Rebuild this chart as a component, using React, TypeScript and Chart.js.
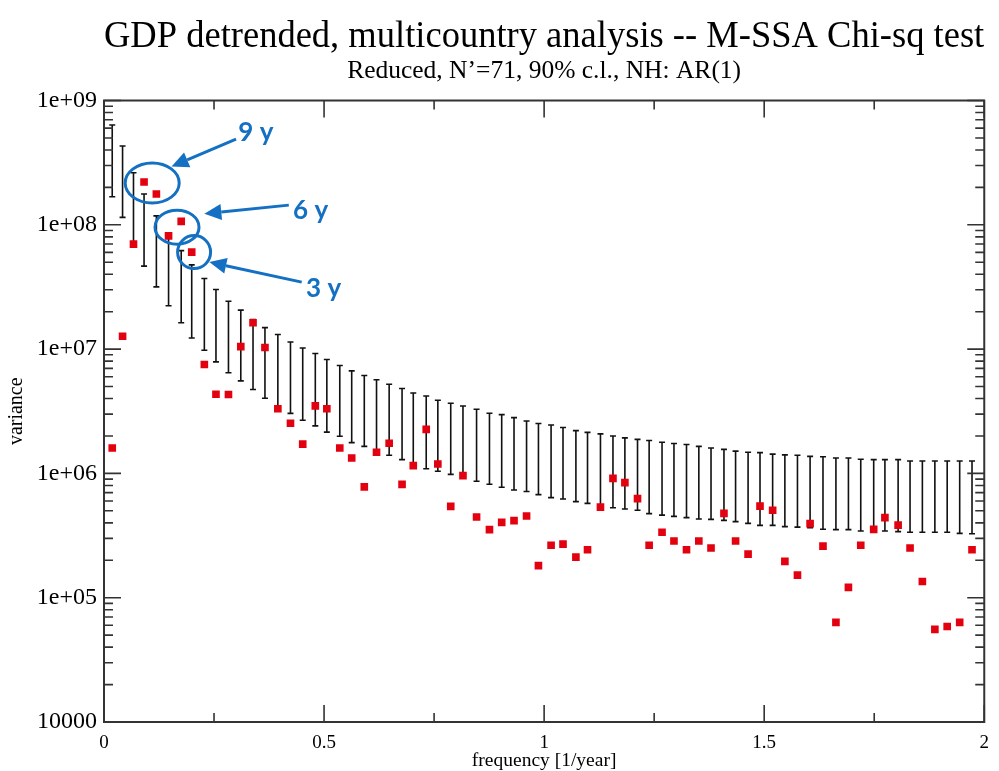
import React, { useEffect, useRef } from 'react';
import { Chart, registerables } from 'chart.js';

Chart.register(...registerables);

// ---------- data ----------
const frequencies = [
  0.0187, 0.0422, 0.067, 0.091, 0.119, 0.1467, 0.1754, 0.1993, 0.228, 0.2544,
  0.2828, 0.3108, 0.3386, 0.3657, 0.395, 0.4237, 0.4515, 0.4801, 0.5063, 0.5357,
  0.5628, 0.5914, 0.6192, 0.6479, 0.6772, 0.7027, 0.7321, 0.7585, 0.7878, 0.8156,
  0.8465, 0.8758, 0.9036, 0.9316, 0.9601, 0.9871, 1.0158, 1.0429, 1.0722, 1.0986,
  1.128, 1.1564, 1.1835, 1.2122, 1.2386, 1.2679, 1.295, 1.3235, 1.3515, 1.3792,
  1.4086, 1.435, 1.4634, 1.4905, 1.5192, 1.547, 1.5756, 1.6043, 1.6336, 1.663,
  1.6914, 1.7194, 1.7488, 1.7743, 1.8043, 1.8314, 1.8594, 1.8878, 1.9158, 1.9442,
  1.9722,
];

const variance = [
  1.6e6, 1.27e7, 6.99e7, 2.21e8, 1.77e8, 8.15e7, 1.065e8, 6.03e7, 7.52e6, 4.33e6,
  4.31e6, 1.046e7, 1.63e7, 1.03e7, 3.31e6, 2.53e6, 1.72e6, 3.49e6, 3.31e6, 1.6e6,
  1.33e6, 7.8e5, 1.48e6, 1.75e6, 8.17e5, 1.156e6, 2.26e6, 1.19e6, 5.43e5, 9.6e5,
  4.46e5, 3.53e5, 4.04e5, 4.17e5, 4.54e5, 1.81e5, 2.64e5, 2.7e5, 2.12e5, 2.43e5,
  5.36e5, 9.13e5, 8.43e5, 6.27e5, 2.64e5, 3.36e5, 2.86e5, 2.43e5, 2.86e5, 2.51e5,
  4.77e5, 2.86e5, 2.24e5, 5.46e5, 5.05e5, 1.96e5, 1.52e5, 3.94e5, 2.6e5, 6.33e4,
  1.21e5, 2.64e5, 3.55e5, 4.41e5, 3.84e5, 2.51e5, 1.35e5, 5.56e4, 5.87e4, 6.33e4,
  2.43e5,
];

const upperBound = [
  6.35e8, 4.3e8, 2.62e8, 1.77e8, 1.18e8, 8.53e7, 6.2e7, 4.76e7, 3.7e7, 3.02e7,
  2.43e7, 2.06e7, 1.73e7, 1.49e7, 1.31e7, 1.14e7, 1.02e7, 9.22e6, 8.26e6, 7.39e6,
  6.68e6, 6.14e6, 5.67e6, 5.22e6, 4.82e6, 4.44e6, 4.2e6, 3.88e6, 3.67e6, 3.49e6,
  3.28e6, 3.05e6, 2.97e6, 2.81e6, 2.64e6, 2.52e6, 2.45e6, 2.34e6, 2.21e6, 2.14e6,
  2.08e6, 2.0e6, 1.93e6, 1.88e6, 1.84e6, 1.78e6, 1.74e6, 1.71e6, 1.65e6, 1.6e6,
  1.56e6, 1.51e6, 1.48e6, 1.47e6, 1.43e6, 1.41e6, 1.4e6, 1.37e6, 1.36e6, 1.33e6,
  1.33e6, 1.3e6, 1.29e6, 1.29e6, 1.29e6, 1.26e6, 1.26e6, 1.26e6, 1.26e6, 1.26e6,
  1.26e6,
];

const lowerBound = [
  1.68e8, 1.147e8, 6.86e7, 4.65e7, 3.17e7, 2.23e7, 1.63e7, 1.23e7, 9.8e6, 7.89e6,
  6.46e6, 5.55e6, 4.73e6, 4.02e6, 3.42e6, 3.04e6, 2.68e6, 2.41e6, 2.15e6, 1.99e6,
  1.77e6, 1.65e6, 1.53e6, 1.4e6, 1.29e6, 1.16e6, 1.09e6, 1.04e6, 9.83e5, 9.48e5,
  8.64e5, 8.17e5, 7.73e5, 7.35e5, 7.15e5, 6.75e5, 6.39e5, 6.22e5, 5.93e5, 5.74e5,
  5.43e5, 5.3e5, 5.17e5, 5.05e5, 4.75e5, 4.62e5, 4.51e5, 4.41e5, 4.3e5, 4.27e5,
  4.19e5, 4.09e5, 3.96e5, 3.82e5, 3.82e5, 3.73e5, 3.7e5, 3.66e5, 3.55e5, 3.53e5,
  3.53e5, 3.44e5, 3.44e5, 3.44e5, 3.4e5, 3.36e5, 3.36e5, 3.36e5, 3.36e5, 3.29e5,
  3.27e5,
];

const xTickValues = [0, 0.5, 1, 1.5, 2];
const xTickLabels = ['0', '0.5', '1', '1.5', '2'];
const yTickValues = [1e4, 1e5, 1e6, 1e7, 1e8, 1e9];
const yTickLabels = ['10000', '1e+05', '1e+06', '1e+07', '1e+08', '1e+09'];

const titleText = 'GDP detrended, multicountry analysis -- M-SSA Chi-sq test';
const subtitleText = 'Reduced, N\u2019=71, 90% c.l., NH: AR(1)';
const xAxisTitle = 'frequency [1/year]';
const yAxisTitle = 'variance';

// annotations (anchored in data coordinates)
const annotationLabels = ['9 y', '6 y', '3 y'];
const labelFreq = [0.345, 0.4695, 0.4989];
const labelVar = [5.47e8, 1.29e8, 3.04e7];
const ellipseFreq = [0.1095, 0.1659, 0.2047];
const ellipseVar = [2.17e8, 9.58e7, 6.03e7];
const arrowFromFreq = [0.3, 0.4199, 0.4492];
const arrowFromVar = [4.9e8, 1.44e8, 3.46e7];
const arrowToFreq = [0.1535, 0.228, 0.2393];
const arrowToVar = [2.94e8, 1.23e8, 5.01e7];

const SERIF = '"Liberation Serif", "Times New Roman", serif';
const BLUE = '#1470c2';

const errorBarPlugin = {
  id: 'errorBars',
  beforeDatasetsDraw(chart: any) {
    const { ctx, scales } = chart;
    const x = scales.x;
    const y = scales.y;
    ctx.save();
    ctx.strokeStyle = '#111';
    ctx.lineWidth = 1.6;
    for (let i = 0; i < frequencies.length; i++) {
      const px = x.getPixelForValue(frequencies[i]);
      const top = y.getPixelForValue(upperBound[i]);
      const bot = y.getPixelForValue(lowerBound[i]);
      ctx.beginPath();
      ctx.moveTo(px, top);
      ctx.lineTo(px, bot);
      ctx.moveTo(px - 3, top);
      ctx.lineTo(px + 3, top);
      ctx.moveTo(px - 3, bot);
      ctx.lineTo(px + 3, bot);
      ctx.stroke();
    }
    ctx.restore();
  },
};

const framePlugin = {
  id: 'frameTicks',
  afterDatasetsDraw(chart: any) {
    const { ctx, chartArea, scales } = chart;
    const x = scales.x;
    const y = scales.y;
    const { left, right, top, bottom } = chartArea;
    ctx.save();
    ctx.strokeStyle = '#333';
    ctx.lineWidth = 1.6;
    ctx.beginPath();
    for (let e = 4; e <= 9; e++) {
      for (let m = 1; m <= 9; m++) {
        const v = m * Math.pow(10, e);
        if (v > 1e9 * 1.0001) break;
        const py = y.getPixelForValue(v);
        const len = m === 1 ? 17 : 9;
        ctx.moveTo(left, py);
        ctx.lineTo(left + len, py);
        ctx.moveTo(right, py);
        ctx.lineTo(right - len, py);
      }
    }
    for (let k = 0; k <= 8; k++) {
      const v = k * 0.25;
      const px = x.getPixelForValue(v);
      const len = k % 2 === 0 ? 17 : 9;
      ctx.moveTo(px, bottom);
      ctx.lineTo(px, bottom - len);
      ctx.moveTo(px, top);
      ctx.lineTo(px, top + len);
    }
    ctx.stroke();
    ctx.lineWidth = 2;
    ctx.strokeRect(left, top, right - left, bottom - top);
    ctx.restore();
  },
};

const annotationPlugin = {
  id: 'annotations',
  afterDraw(chart: any) {
    const { ctx, scales } = chart;
    const x = scales.x;
    const y = scales.y;
    const radii = [[27, 20], [22, 17], [16.5, 16.5]];
    ctx.save();
    ctx.strokeStyle = BLUE;
    ctx.fillStyle = BLUE;
    ctx.lineWidth = 3;
    for (let i = 0; i < annotationLabels.length; i++) {
      const cx = x.getPixelForValue(ellipseFreq[i]);
      const cy = y.getPixelForValue(ellipseVar[i]);
      ctx.beginPath();
      ctx.ellipse(cx, cy, radii[i][0], radii[i][1], 0, 0, Math.PI * 2);
      ctx.stroke();

      const x1 = x.getPixelForValue(arrowFromFreq[i]);
      const y1 = y.getPixelForValue(arrowFromVar[i]);
      const x2 = x.getPixelForValue(arrowToFreq[i]);
      const y2 = y.getPixelForValue(arrowToVar[i]);
      const ang = Math.atan2(y2 - y1, x2 - x1);
      const headLen = 17;
      const headW = 8;
      const bx = x2 - headLen * Math.cos(ang);
      const by = y2 - headLen * Math.sin(ang);
      ctx.beginPath();
      ctx.moveTo(x1, y1);
      ctx.lineTo(bx, by);
      ctx.stroke();
      ctx.beginPath();
      ctx.moveTo(x2, y2);
      ctx.lineTo(bx + headW * Math.sin(ang), by - headW * Math.cos(ang));
      ctx.lineTo(bx - headW * Math.sin(ang), by + headW * Math.cos(ang));
      ctx.closePath();
      ctx.fill();

      ctx.font = 'bold 26px Lato, "Open Sans", sans-serif';
      ctx.textAlign = 'center';
      ctx.textBaseline = 'middle';
      ctx.fillText(
        annotationLabels[i],
        x.getPixelForValue(labelFreq[i]),
        y.getPixelForValue(labelVar[i])
      );
    }
    ctx.restore();
  },
};

export default function App() {
  const canvasRef = useRef<HTMLCanvasElement | null>(null);

  useEffect(() => {
    document.body.style.margin = '0';
    const canvas = canvasRef.current;
    if (!canvas) return;
    const chart = new Chart(canvas, {
      type: 'scatter',
      data: {
        datasets: [
          {
            data: frequencies.map((f, i) => ({ x: f, y: variance[i] })),
            pointStyle: 'rect',
            pointRadius: 5.4,
            pointHoverRadius: 5.4,
            backgroundColor: '#e3000f',
            borderColor: '#e3000f',
            borderWidth: 0,
          },
        ],
      },
      options: {
        responsive: false,
        animation: false,
        layout: { padding: { left: 0, right: 9, top: 0, bottom: 0 } },
        plugins: {
          legend: { display: false },
          tooltip: { enabled: false },
          title: {
            display: true,
            fullSize: false,
            text: titleText,
            color: '#000',
            font: { family: SERIF, size: 37.7, weight: 'normal', lineHeight: 1.08 },
            padding: { top: 17, bottom: 0 },
          },
          subtitle: {
            display: true,
            fullSize: false,
            text: subtitleText,
            color: '#000',
            font: { family: SERIF, size: 25.5, weight: 'normal', lineHeight: 1 },
            padding: { top: 1, bottom: 16.3 },
          },
        },
        scales: {
          x: {
            type: 'linear',
            min: 0,
            max: 2,
            afterBuildTicks: (s: any) => {
              s.ticks = xTickValues.map((v) => ({ value: v }));
            },
            afterFit: (s: any) => {
              s.height = 49;
            },
            ticks: {
              color: '#000',
              padding: 10,
              maxRotation: 0,
              autoSkip: false,
              font: { family: SERIF, size: 19, lineHeight: 1.2 },
              callback: (v: any) => {
                const i = xTickValues.indexOf(Number(v));
                return i >= 0 ? xTickLabels[i] : '';
              },
            },
            grid: { display: false, drawTicks: false },
            border: { display: false },
            title: {
              display: true,
              text: xAxisTitle,
              color: '#000',
              font: { family: SERIF, size: 19.5, lineHeight: 1 },
              padding: { top: 0, bottom: 0 },
            },
          },
          y: {
            type: 'logarithmic',
            min: 1e4,
            max: 1e9,
            afterBuildTicks: (s: any) => {
              s.ticks = yTickValues.map((v) => ({ value: v }));
            },
            afterFit: (s: any) => {
              s.width = 104;
            },
            ticks: {
              color: '#000',
              padding: 7,
              autoSkip: false,
              font: { family: SERIF, size: 24, lineHeight: 1.2 },
              callback: (v: any) => {
                const i = yTickValues.indexOf(Number(v));
                return i >= 0 ? yTickLabels[i] : '';
              },
            },
            grid: { display: false, drawTicks: false },
            border: { display: false },
            title: {
              display: true,
              text: yAxisTitle,
              color: '#000',
              font: { family: SERIF, size: 20, lineHeight: 1 },
              padding: { top: 7, bottom: 0 },
            },
          },
        },
      },
      plugins: [errorBarPlugin, framePlugin, annotationPlugin],
    });
    return () => chart.destroy();
  }, []);

  return (
    <div style={{ width: 999, height: 771, background: '#fff' }}>
      <canvas ref={canvasRef} width={999} height={771} style={{ display: 'block' }} />
    </div>
  );
}
